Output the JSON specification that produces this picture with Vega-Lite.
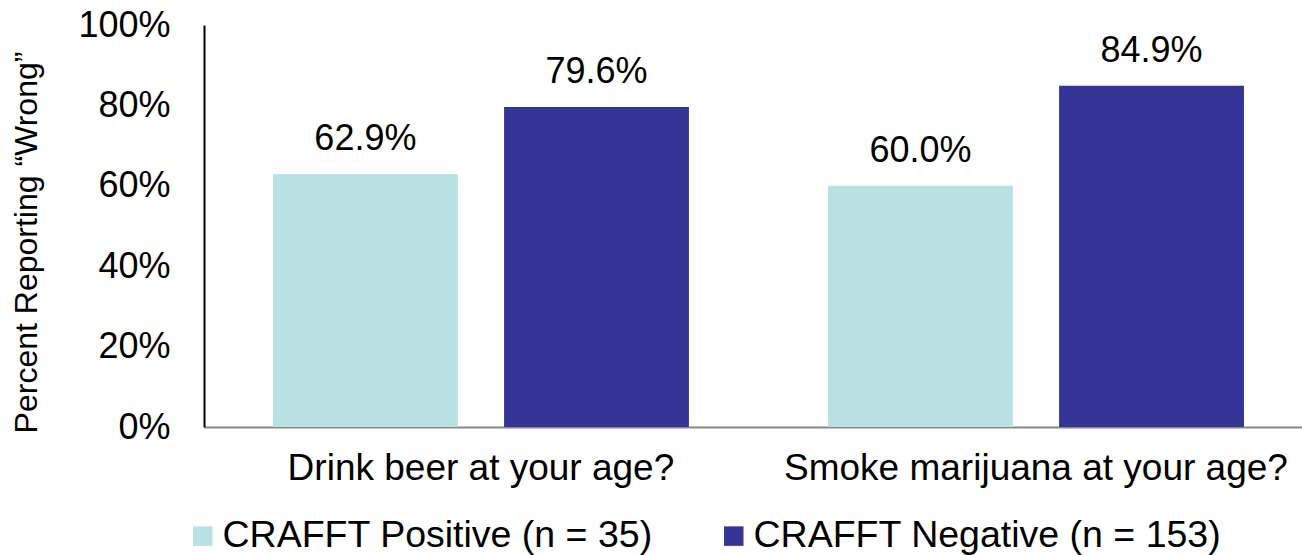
{
  "$schema": "https://vega.github.io/schema/vega-lite/v6.json",
  "autosize": "none",
  "width": 1098,
  "height": 402,
  "padding": {"left": 204, "top": 25, "right": 0, "bottom": 128},
  "background": "white",
  "config": {
    "font": "Liberation Sans",
    "view": {"stroke": null},
    "axis": {"labelColor": "#000000", "titleColor": "#000000"}
  },
  "data": {
    "values": [
      {"question": "Drink beer at your age?", "group": "CRAFFT Positive (n = 35)", "pct": 0.629},
      {"question": "Drink beer at your age?", "group": "CRAFFT Negative (n = 153)", "pct": 0.796},
      {"question": "Smoke marijuana at your age?", "group": "CRAFFT Positive (n = 35)", "pct": 0.600},
      {"question": "Smoke marijuana at your age?", "group": "CRAFFT Negative (n = 153)", "pct": 0.849}
    ]
  },
  "encoding": {
    "x": {
      "field": "question",
      "type": "nominal",
      "sort": null,
      "scale": {"paddingInner": 0.2505, "paddingOuter": 0.1144, "align": 0.543},
      "axis": {
        "title": null,
        "labelAngle": 0,
        "labelFontSize": 37,
        "labelPadding": 23,
        "ticks": false,
        "domainColor": "#888888",
        "domainWidth": 2,
        "labelLimit": 700
      }
    },
    "xOffset": {
      "field": "group",
      "type": "nominal",
      "sort": ["CRAFFT Positive (n = 35)", "CRAFFT Negative (n = 153)"],
      "scale": {"paddingInner": 0.2, "paddingOuter": 0}
    },
    "y": {
      "field": "pct",
      "type": "quantitative",
      "scale": {"domain": [0, 1]},
      "axis": {
        "title": "Percent Reporting \u201cWrong\u201d",
        "titleFontSize": 32,
        "titleFontWeight": "normal",
        "titlePadding": 34,
        "titleY": 217,
        "values": [0, 0.2, 0.4, 0.6, 0.8, 1],
        "format": ".0%",
        "labelFontSize": 36,
        "labelPadding": 34,
        "ticks": false,
        "grid": false,
        "domainColor": "#000000",
        "domainWidth": 2
      }
    }
  },
  "layer": [
    {
      "mark": {"type": "bar"},
      "encoding": {
        "color": {
          "field": "group",
          "type": "nominal",
          "sort": ["CRAFFT Positive (n = 35)", "CRAFFT Negative (n = 153)"],
          "scale": {
            "domain": ["CRAFFT Positive (n = 35)", "CRAFFT Negative (n = 153)"],
            "range": ["#B9E0E3", "#353597"]
          },
          "legend": {
            "title": null,
            "orient": "none",
            "direction": "horizontal",
            "legendX": -20,
            "legendY": 492,
            "symbolType": "square",
            "symbolSize": 380,
            "symbolStrokeWidth": 0,
            "labelFontSize": 37.5,
            "labelColor": "#000000",
            "labelLimit": 700,
            "labelOffset": 1,
            "columnPadding": 62
          }
        }
      }
    },
    {
      "mark": {"type": "text", "baseline": "bottom", "dy": -16, "fontSize": 36, "color": "#000000"},
      "encoding": {
        "text": {"field": "pct", "type": "quantitative", "format": ".1%"}
      }
    }
  ]
}
